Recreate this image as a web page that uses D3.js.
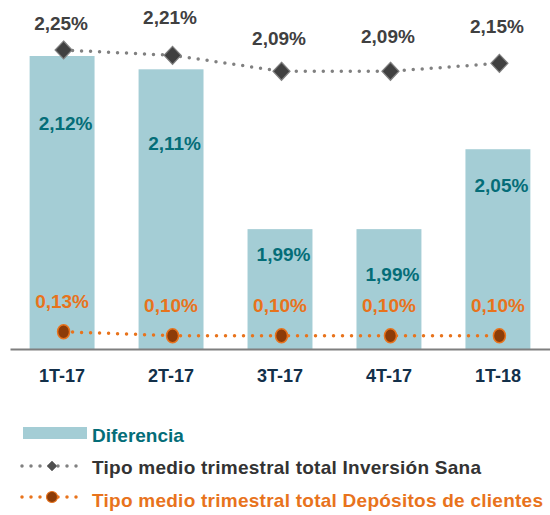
<!DOCTYPE html>
<html>
<head>
<meta charset="utf-8">
<script src="https://cdn.jsdelivr.net/npm/d3@7"></script>
<style>
  body { margin: 0; background: #fff; }
  text { font-family: "Liberation Sans", Arial, sans-serif; font-weight: bold; }
</style>
</head>
<body>
<script>

  var quarters = ["1T-17", "2T-17", "3T-17", "4T-17", "1T-18"];
  var diferencia = [2.12, 2.11, 1.99, 1.99, 2.05];
  var inversion = [2.25, 2.21, 2.09, 2.09, 2.15];
  var depositos = [0.13, 0.10, 0.10, 0.10, 0.10];

  // label nudges (hand placed in the original)
  var difLabelDy = [74, 81, 32, 52, 43];
  var invLabelDy = [20, 31, 26, 28, 30];

  var fmt = function(v) { return v.toFixed(2).replace(".", ",") + "%"; };

  var svg = d3.select("body").append("svg")
      .attr("width", 550)
      .attr("height", 515);

  var x = d3.scaleBand()
      .domain(quarters)
      .range([10, 550])
      .paddingInner(0.404)
      .paddingOuter(0.18);

  var yBar = d3.scaleLinear().domain([1.9, 2.12]).range([349, 56]);
  var yLine = d3.scaleLinear().domain([0, 2.25]).range([349, 50]);

  var cx = function(d, i) { return x(quarters[i]) + x.bandwidth() / 2; };

  // bars
  svg.selectAll("rect.bar")
    .data(diferencia)
    .enter().append("rect")
      .attr("class", "bar")
      .attr("x", function(d, i) { return x(quarters[i]); })
      .attr("width", x.bandwidth())
      .attr("y", function(d) { return yBar(d); })
      .attr("height", function(d) { return yBar.range()[0] - yBar(d); })
      .attr("fill", "#a4cdd5");

  // x axis
  var axis = svg.append("g")
      .attr("transform", "translate(0," + 349 + ")")
      .call(d3.axisBottom(x).tickSize(0).tickPadding(20));
  axis.select(".domain").attr("stroke", "#7f7f7f").attr("stroke-width", 2);
  axis.selectAll("text")
      .attr("font-size", 18)
      .attr("font-family", "Liberation Sans, Arial, sans-serif")
      .attr("font-weight", "bold")
      .attr("fill", "#13304a");

  // bar labels
  svg.selectAll("text.dif")
    .data(diferencia)
    .enter().append("text")
      .attr("class", "dif")
      .attr("x", function(d, i) { return cx(d, i) + 3.5; })
      .attr("y", function(d, i) { return yBar(d) + difLabelDy[i]; })
      .attr("text-anchor", "middle")
      .attr("font-size", 19)
      .attr("fill", "#046d78")
      .text(fmt);

  var line = d3.line()
      .x(function(d, i) { return cx(d, i) + 1.5; })
      .y(function(d) { return yLine(d); });

  // Inversion line
  svg.append("path")
      .datum(inversion)
      .attr("d", line)
      .attr("fill", "none")
      .attr("stroke", "#808080")
      .attr("stroke-width", 3.5)
      .attr("stroke-linecap", "round")
      .attr("stroke-dasharray", "0 9");

  svg.selectAll("path.diamond")
    .data(inversion)
    .enter().append("path")
      .attr("class", "diamond")
      .attr("d", "M0,-9L8.5,0L0,9L-8.5,0Z")
      .attr("transform", function(d, i) { return "translate(" + (cx(d, i) + 1.5) + "," + yLine(d) + ")"; })
      .attr("fill", "#404040")
      .attr("stroke", "#7f7f7f")
      .attr("stroke-width", 1.2);

  svg.selectAll("text.inv")
    .data(inversion)
    .enter().append("text")
      .attr("class", "inv")
      .attr("x", function(d, i) { return cx(d, i) - 1; })
      .attr("y", function(d, i) { return yLine(d) - invLabelDy[i]; })
      .attr("text-anchor", "middle")
      .attr("font-size", 19)
      .attr("fill", "#404040")
      .text(fmt);

  // Depositos line
  svg.append("path")
      .datum(depositos)
      .attr("d", line)
      .attr("fill", "none")
      .attr("stroke", "#e8731c")
      .attr("stroke-width", 3.5)
      .attr("stroke-linecap", "round")
      .attr("stroke-dasharray", "0 9");

  svg.selectAll("ellipse.dep")
    .data(depositos)
    .enter().append("ellipse")
      .attr("class", "dep")
      .attr("cx", function(d, i) { return cx(d, i) + 1.5; })
      .attr("cy", function(d) { return yLine(d); })
      .attr("rx", 6)
      .attr("ry", 7)
      .attr("fill", "#8c3c08")
      .attr("stroke", "#e8731c")
      .attr("stroke-width", 1.5);

  svg.selectAll("text.dep")
    .data(depositos)
    .enter().append("text")
      .attr("class", "dep")
      .attr("x", function(d, i) { return cx(d, i); })
      .attr("y", function(d) { return yLine(d) - 24; })
      .attr("text-anchor", "middle")
      .attr("font-size", 19)
      .attr("fill", "#e8731c")
      .text(fmt);

  // legend
  var legend = svg.append("g");

  legend.append("rect")
      .attr("x", 23).attr("y", 427)
      .attr("width", 64).attr("height", 12)
      .attr("fill", "#a4cdd5");
  legend.append("text")
      .attr("x", 92).attr("y", 442)
      .attr("font-size", 19)
      .attr("fill", "#046d78")
      .text("Diferencia");

  legend.append("line")
      .attr("x1", 22).attr("x2", 78).attr("y1", 466).attr("y2", 466)
      .attr("stroke", "#808080").attr("stroke-width", 3.5)
      .attr("stroke-linecap", "round").attr("stroke-dasharray", "0 9");
  legend.append("path")
      .attr("d", "M0,-5L5,0L0,5L-5,0Z")
      .attr("transform", "translate(52,466)")
      .attr("fill", "#505050").attr("stroke", "#7f7f7f");
  legend.append("text")
      .attr("x", 92).attr("y", 474)
      .attr("font-size", 19)
      .attr("fill", "#333333")
      .attr("textLength", 389)
      .attr("lengthAdjust", "spacing")
      .text("Tipo medio trimestral total Inversión Sana");

  legend.append("line")
      .attr("x1", 22).attr("x2", 78).attr("y1", 497).attr("y2", 497)
      .attr("stroke", "#e8731c").attr("stroke-width", 3.5)
      .attr("stroke-linecap", "round").attr("stroke-dasharray", "0 9");
  legend.append("circle")
      .attr("cx", 52).attr("cy", 497).attr("r", 5.5)
      .attr("fill", "#8c3c08").attr("stroke", "#e8731c").attr("stroke-width", 1.2);
  legend.append("text")
      .attr("x", 92).attr("y", 507)
      .attr("font-size", 19)
      .attr("fill", "#e8731c")
      .attr("textLength", 451)
      .attr("lengthAdjust", "spacing")
      .text("Tipo medio trimestral total Depósitos de clientes");

</script>
</body>
</html>
